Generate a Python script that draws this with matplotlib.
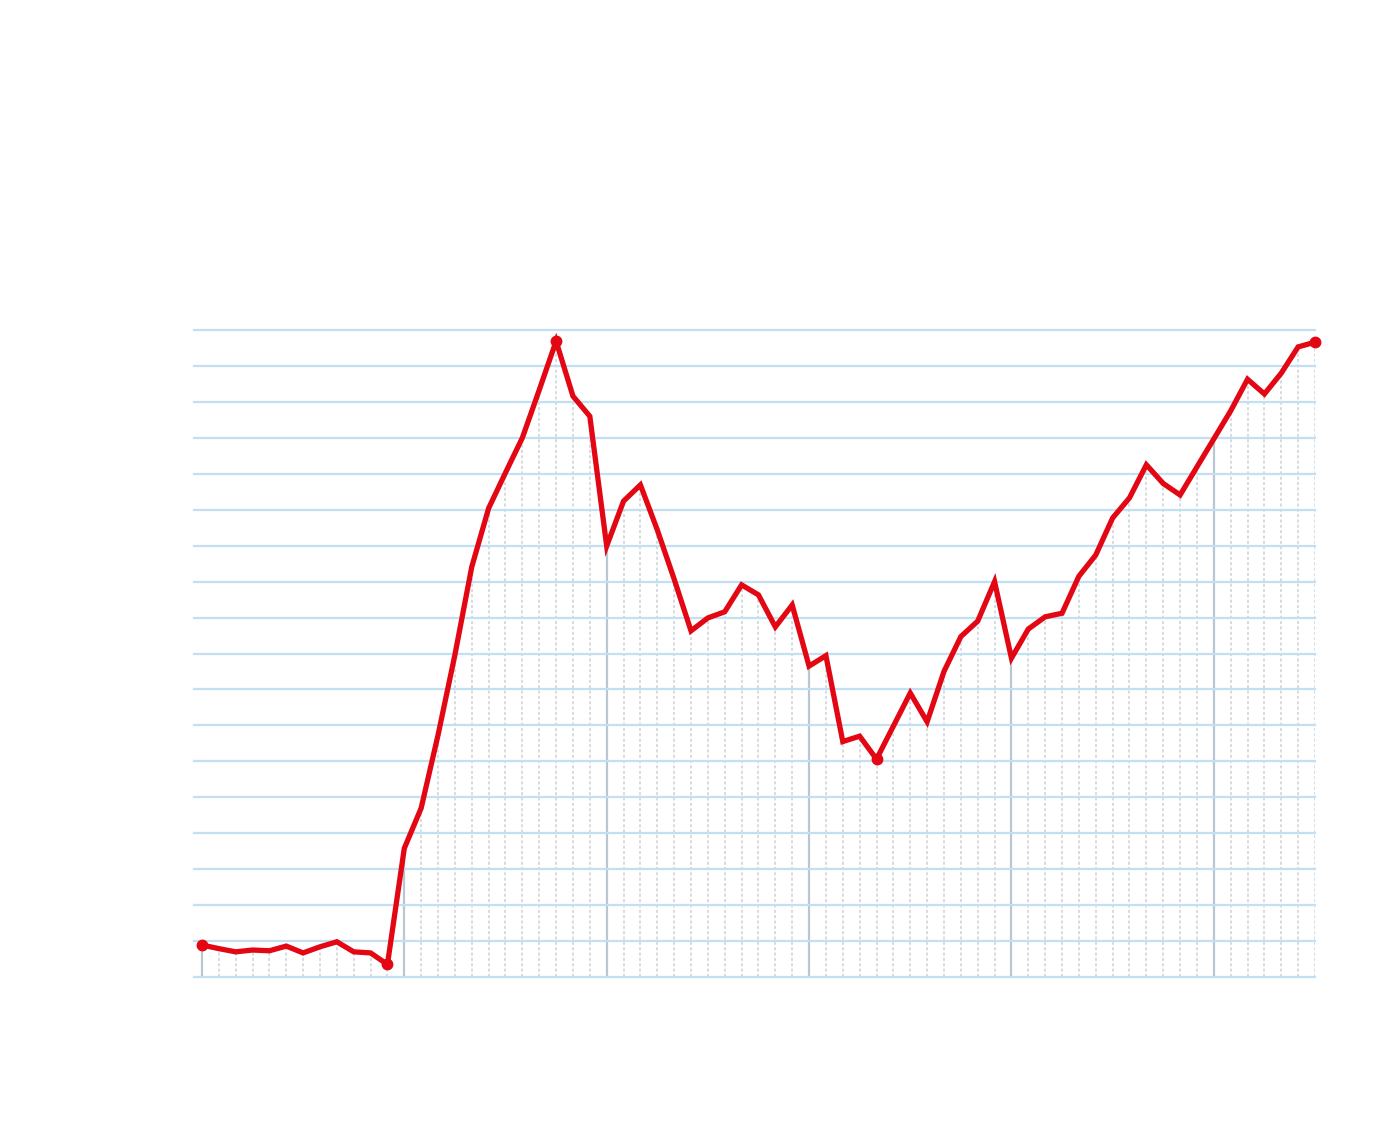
import matplotlib
matplotlib.use("Agg")
import matplotlib.pyplot as plt
import numpy as np

# values in grid units (0 = bottom line, 18 = top line)
values = [
    0.89, 0.79, 0.70, 0.75, 0.73, 0.86, 0.67, 0.84, 0.98, 0.70, 0.67, 0.35,
    3.58, 4.70, 6.73, 8.96, 11.41, 13.04, 14.03, 15.00, 16.33, 17.69, 16.16, 15.60,
    11.99, 13.24, 13.69, 12.44, 11.07, 9.63, 9.99, 10.16, 10.91, 10.63, 9.74, 10.35,
    8.65, 8.94, 6.55, 6.70, 6.06, 6.98, 7.90, 7.10, 8.50, 9.47, 9.90, 11.00,
    8.87, 9.68, 10.02, 10.12, 11.15, 11.74, 12.77, 13.33, 14.25, 13.73, 13.41, 14.19,
    14.97, 15.75, 16.63, 16.22, 16.80, 17.53, 17.66,
]
marked = [0, 11, 21, 40, 66]
major_every = 12
n_grid = 18

RED = "#e30613"
GRID_BLUE = "#c3dff2"
DROP_GREY = "#c9d3db"
MAJOR_GREY = "#b9c7d2"

fig = plt.figure(figsize=(14, 11.4), dpi=100)
ax = fig.add_axes([194 / 1400, 163 / 1140, (1315 - 194) / 1400, (977 - 330) / 1140])

x = np.arange(len(values))
y = np.array(values)

# drop lines from the baseline up to each point
for xi, yi in zip(x, y):
    if xi % major_every == 0:
        ax.vlines(xi, 0, yi, color=MAJOR_GREY, lw=1.6, zorder=1)
    else:
        ax.vlines(xi, 0, yi, color=DROP_GREY, lw=1.1, linestyles=(0, (2, 1.5)), zorder=1)

for level in range(n_grid + 1):
    ax.axhline(level, color=GRID_BLUE, lw=1.6, zorder=2, clip_on=False)

ax.plot(x, y, color=RED, lw=3.8, solid_joinstyle="miter", zorder=3, clip_on=False)
ax.plot(x[marked], y[marked], "o", color=RED, ms=7.5, zorder=4, clip_on=False)

ax.set_xlim(-0.47, len(values) - 1)
ax.set_ylim(0, n_grid)
ax.axis("off")

fig.savefig("out.png", dpi=100, facecolor="white")
